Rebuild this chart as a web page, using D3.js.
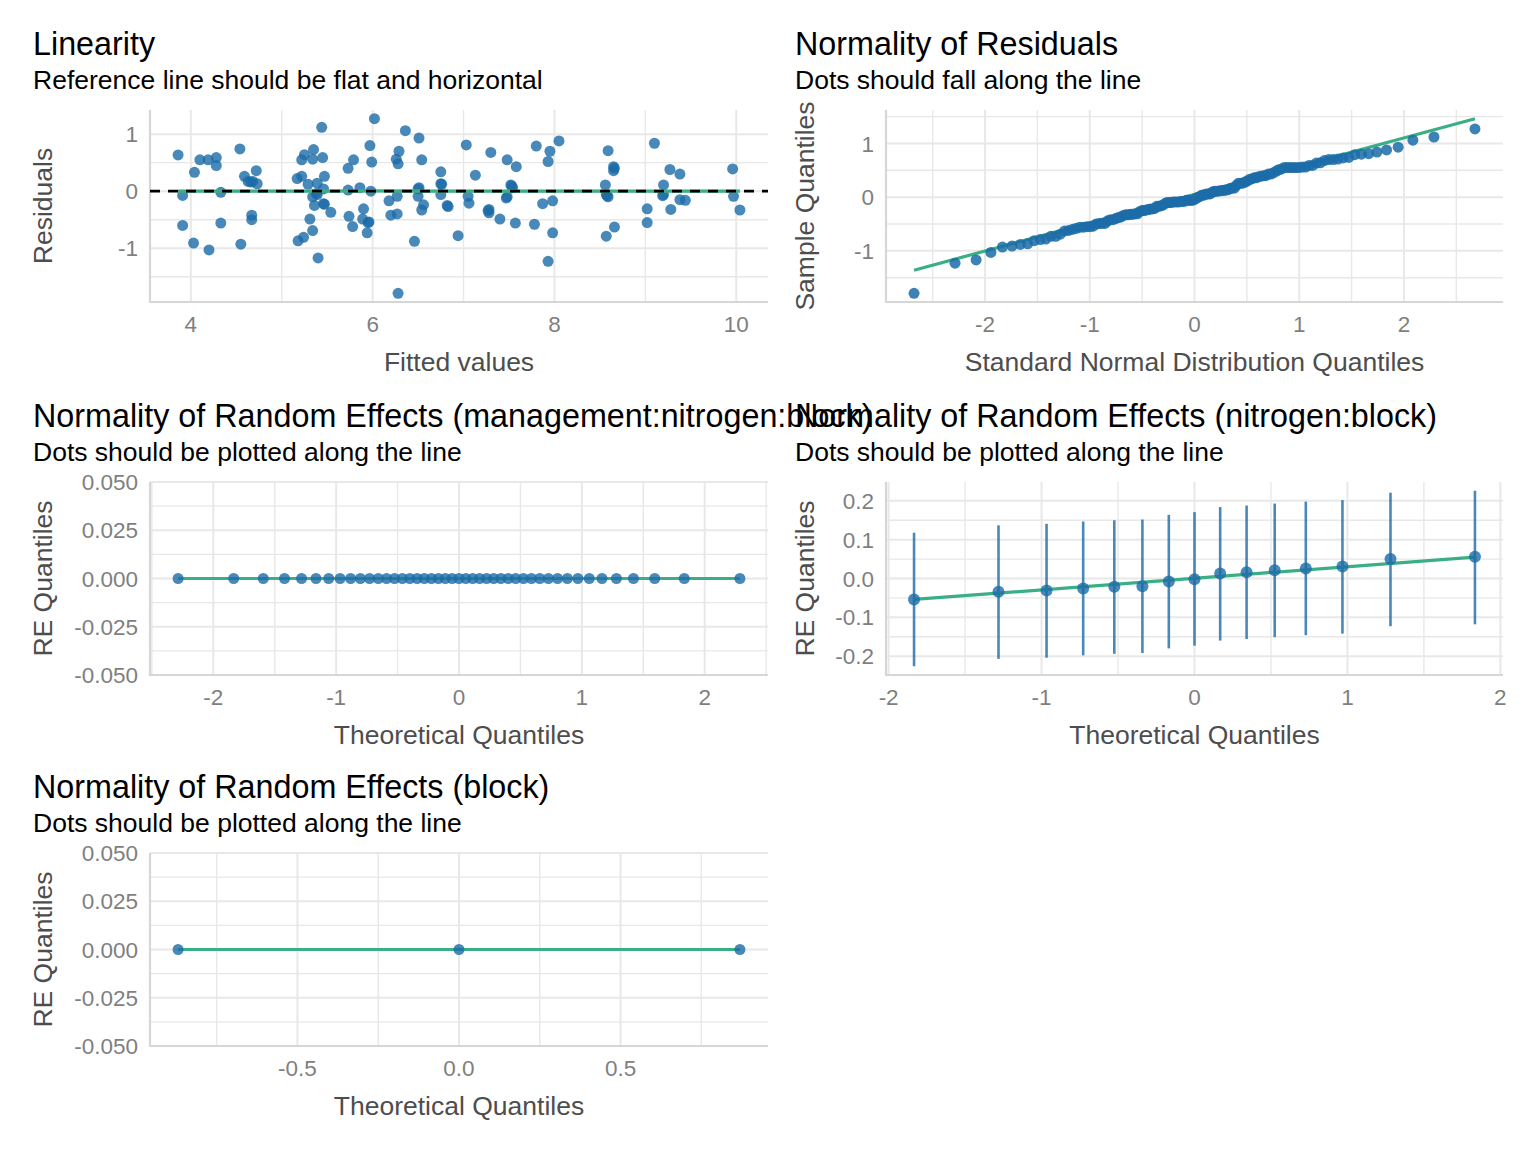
<!DOCTYPE html>
<html>
<head>
<meta charset="utf-8">
<script src="https://cdn.jsdelivr.net/npm/d3@7"></script>
<style>
  body { margin: 0; background: #fff; }
  text { font-family: "Liberation Sans", Arial, sans-serif; }
</style>
</head>
<body>
<svg id="chart" width="1536" height="1152"></svg>
<script>
// fitted values / residuals
var fitted = [3.86, 3.91, 3.91, 4.04, 4.03, 4.10, 4.19, 4.28, 4.28, 4.20, 4.33, 4.33, 4.54, 4.55, 4.59, 4.63,
  4.68, 4.73, 4.72, 4.67, 4.67, 5.17, 5.22, 5.22, 5.25, 5.35, 5.34, 5.45, 5.44, 5.29, 5.39, 5.46, 5.47, 5.34,
  5.39, 5.36, 5.46, 5.54, 5.31, 5.34, 5.24, 5.18, 5.40, 5.73, 5.79, 5.73, 5.86, 5.98, 5.74, 5.78, 5.90, 5.89,
  5.96, 5.94, 5.97, 5.99, 6.02, 6.18, 6.27, 6.20, 6.27, 6.28, 6.36, 6.29, 6.26, 6.28, 6.51, 6.54, 6.46, 6.50,
  6.50, 6.56, 6.54, 6.75, 6.75, 6.75, 6.82, 6.94, 7.03, 7.13, 7.05, 7.06, 7.28, 7.28, 7.30, 7.40, 7.48, 7.58,
  7.52, 7.54, 7.48, 7.57, 7.80, 7.95, 7.93, 8.05, 7.87, 7.98, 7.78, 7.98, 7.93, 8.59, 8.65, 8.65, 8.56, 8.57,
  8.59, 8.66, 8.57, 9.10, 9.27, 9.38, 9.20, 9.19, 9.38, 9.44, 9.02, 9.28, 9.02, 9.96, 9.97, 10.04,
  4.66, 5.47, 5.95, 6.51, 6.76, 6.83, 7.27, 7.53, 7.47, 8.58, 8.66, 9.20, 5.38];
var residuals = [0.635, -0.075, -0.60, 0.33, -0.91, 0.55, 0.55, 0.59, 0.45, -1.03, -0.02, -0.56, 0.74, -0.93,
  0.26, 0.17, 0.17, 0.13, 0.36, -0.42, -0.50, 0.22, 0.26, 0.55, 0.64, 0.73, 0.56, 0.59, 1.12, 0.12, 0.14, 0.04,
  0.26, -0.10, -0.06, -0.25, -0.22, -0.37, -0.49, -0.69, -0.81, -0.87, -1.17, 0.40, 0.55, 0.02, 0.06, 0.0,
  -0.44, -0.62, -0.31, -0.49, -0.54, -0.73, 0.80, 0.51, 1.27, -0.17, -0.09, -0.42, -0.40, -1.79, 1.06, 0.70,
  0.56, 0.48, 0.93, 0.55, -0.88, 0.04, -0.09, -0.24, -0.33, 0.34, 0.13, -0.06, -0.25, -0.78, 0.81, 0.28, -0.09,
  -0.21, -0.32, -0.38, 0.68, -0.49, 0.55, 0.43, 0.11, 0.06, -0.10, -0.56, 0.79, 0.70, 0.52, 0.88, -0.22, -0.17,
  -0.58, -0.73, -1.23, 0.71, 0.43, 0.36, 0.11, -0.06, -0.10, -0.63, -0.79, 0.84, 0.38, 0.30, 0.11, -0.08, -0.15,
  -0.16, -0.31, -0.32, -0.55, 0.39, -0.09, -0.33,
  0.16, -0.23, -0.55, 0.06, 0.12, -0.27, -0.34, 0.09, -0.12, -0.08, 0.40, -0.06, -0.04];

// loess reference line of the Linearity panel
var smoothX = [3.86, 5, 6, 7, 8, 9, 10.04];
var smoothY = [0.0, 0.0, 0.004, 0.0, 0.0, 0.0, 0.0];
var smoothSe = 0.035;

// qq line of residuals (end points)
var qqLineY = [-1.36, 1.46];

// random effects
var reMgmtNitroBlock = d3.range(45).map(function() { return 0; });
var reBlock = [0, 0, 0];
var reNitroBlock = [-0.054, -0.034, -0.031, -0.026, -0.021, -0.020, -0.008, -0.002, 0.013, 0.016, 0.021, 0.026, 0.031, 0.050, 0.056];
var reNitroLo = [-0.226, -0.207, -0.204, -0.198, -0.194, -0.192, -0.180, -0.173, -0.160, -0.156, -0.151, -0.146, -0.142, -0.123, -0.118];
var reNitroHi = [0.118, 0.137, 0.141, 0.147, 0.150, 0.152, 0.164, 0.171, 0.184, 0.188, 0.193, 0.198, 0.202, 0.221, 0.226];
var reNitroLine = [-0.054, 0.055];

// tick labels
var linXTicks = [4, 6, 8, 10];
var linYTicks = [-1, 0, 1];
var qqXTicks = [-2, -1, 0, 1, 2];
var qqYTicks = [-1, 0, 1];
var reXTicks = [-2, -1, 0, 1, 2];
var reYTicks = [-0.05, -0.025, 0, 0.025, 0.05];
var nbYTicks = [-0.2, -0.1, 0, 0.1, 0.2];
var blockXTicks = [-0.5, 0, 0.5];

var green = "#3aaf85", blue = "#1b6ca8";

var svg = d3.select("#chart");
svg.append("rect").attr("width", 1536).attr("height", 1152).attr("fill", "#fff");

// inverse normal cdf (Acklam)
function qnorm(p) {
  var a = [-3.969683028665376e+01, 2.209460984245205e+02, -2.759285104469687e+02, 1.383577518672690e+02, -3.066479806614716e+01, 2.506628277459239e+00];
  var b = [-5.447609879822406e+01, 1.615858368580409e+02, -1.556989798598866e+02, 6.680131188771972e+01, -1.328068155288572e+01];
  var c = [-7.784894002430293e-03, -3.223964580411365e-01, -2.400758277161838e+00, -2.549732539343734e+00, 4.374664141464968e+00, 2.938163982698783e+00];
  var d = [7.784695709041462e-03, 3.224671290700398e-01, 2.445134137142996e+00, 3.754408661907416e+00];
  var q, r;
  if (p < 0.02425) {
    q = Math.sqrt(-2 * Math.log(p));
    return (((((c[0]*q+c[1])*q+c[2])*q+c[3])*q+c[4])*q+c[5]) / ((((d[0]*q+d[1])*q+d[2])*q+d[3])*q+1);
  }
  if (p > 1 - 0.02425) return -qnorm(1 - p);
  q = p - 0.5; r = q * q;
  return (((((a[0]*r+a[1])*r+a[2])*r+a[3])*r+a[4])*r+a[5])*q / (((((b[0]*r+b[1])*r+b[2])*r+b[3])*r+b[4])*r+1);
}
function theoretical(n) {
  var a = n <= 10 ? 3 / 8 : 0.5;
  return d3.range(1, n + 1).map(function(i) { return qnorm((i - a) / (n + 1 - 2 * a)); });
}
function expand(ext) {
  var w = ext[1] - ext[0];
  if (w === 0) return [ext[0] - 0.05, ext[1] + 0.05];
  return [ext[0] - 0.05 * w, ext[1] + 0.05 * w];
}
function minors(ticks, dom) {
  var step = ticks[1] - ticks[0];
  var m = [ticks[0] - step / 2].concat(ticks.map(function(t) { return t + step / 2; }));
  return m.filter(function(v) { return v >= dom[0] && v <= dom[1]; });
}
function fmt(f) {
  return function(v) { return d3.format(f)(v).replace("\u2212", "-"); };
}

function panel(o) {
  var g = svg.append("g");
  var x = d3.scaleLinear().domain(o.xDomain).range([o.x0, o.x1]);
  var y = d3.scaleLinear().domain(o.yDomain).range([o.y1, o.y0]);

  g.append("text").attr("x", o.left).attr("y", o.y0 - 55)
    .attr("font-size", 32.3).attr("fill", "#000").text(o.title);
  g.append("text").attr("x", o.left).attr("y", o.y0 - 21)
    .attr("font-size", 26.5).attr("fill", "#000").text(o.subtitle);

  var grid = g.append("g").attr("stroke", "#e8e8e8");
  grid.selectAll(".vminor").data(minors(o.xTicks, o.xDomain)).enter().append("line")
    .attr("x1", x).attr("x2", x).attr("y1", o.y0).attr("y2", o.y1).attr("stroke-width", 1.4);
  grid.selectAll(".hminor").data(minors(o.yTicks, o.yDomain)).enter().append("line")
    .attr("y1", y).attr("y2", y).attr("x1", o.x0).attr("x2", o.x1).attr("stroke-width", 1.4);
  grid.selectAll(".vmajor").data(o.xTicks).enter().append("line")
    .attr("x1", x).attr("x2", x).attr("y1", o.y0).attr("y2", o.y1).attr("stroke-width", 2);
  grid.selectAll(".hmajor").data(o.yTicks).enter().append("line")
    .attr("y1", y).attr("y2", y).attr("x1", o.x0).attr("x2", o.x1).attr("stroke-width", 2);

  g.append("line").attr("x1", o.x0).attr("x2", o.x0).attr("y1", o.y0).attr("y2", o.y1 + 1)
    .attr("stroke", "#d6d6d6").attr("stroke-width", 2.2);
  g.append("line").attr("x1", o.x0 - 1).attr("x2", o.x1).attr("y1", o.y1).attr("y2", o.y1)
    .attr("stroke", "#d6d6d6").attr("stroke-width", 2.2);

  g.selectAll(".xt").data(o.xTicks).enter().append("text")
    .attr("x", x).attr("y", o.y1 + 30).attr("text-anchor", "middle")
    .attr("font-size", 22.5).attr("fill", "#7f7f7f").text(o.xFmt);
  g.selectAll(".yt").data(o.yTicks).enter().append("text")
    .attr("x", o.x0 - 12).attr("y", y).attr("dy", "0.36em").attr("text-anchor", "end")
    .attr("font-size", 22.5).attr("fill", "#7f7f7f").text(o.yFmt);

  g.append("text").attr("x", (o.x0 + o.x1) / 2).attr("y", o.y1 + 69).attr("text-anchor", "middle")
    .attr("font-size", 26.5).attr("fill", "#4d4d4d").text(o.xLabel);
  g.append("text").attr("transform", "translate(" + (o.left + 19) + "," + ((o.y0 + o.y1) / 2) + ") rotate(-90)")
    .attr("text-anchor", "middle").attr("font-size", 26.5).attr("fill", "#4d4d4d").text(o.yLabel);

  return { g: g, x: x, y: y };
}

// ---- Linearity ----
var p1 = panel({
  left: 33, x0: 150, x1: 768, y0: 110, y1: 302,
  title: "Linearity", subtitle: "Reference line should be flat and horizontal",
  xLabel: "Fitted values", yLabel: "Residuals",
  xDomain: expand(d3.extent(fitted)), yDomain: expand(d3.extent(residuals)),
  xTicks: linXTicks, yTicks: linYTicks, xFmt: fmt("d"), yFmt: fmt("d")
});
p1.g.selectAll(".pt").data(fitted).enter().append("circle")
  .attr("cx", function(d) { return p1.x(d); })
  .attr("cy", function(d, i) { return p1.y(residuals[i]); })
  .attr("r", 5.5).attr("fill", blue).attr("fill-opacity", 0.8);
p1.g.append("path").datum(smoothX)
  .attr("d", d3.area().x(function(d) { return p1.x(d); })
    .y0(function(d, i) { return p1.y(smoothY[i] - smoothSe); })
    .y1(function(d, i) { return p1.y(smoothY[i] + smoothSe); }).curve(d3.curveMonotoneX))
  .attr("fill", "#999").attr("fill-opacity", 0.2);
p1.g.append("path").datum(smoothX)
  .attr("d", d3.line().x(function(d) { return p1.x(d); }).y(function(d, i) { return p1.y(smoothY[i]); }).curve(d3.curveMonotoneX))
  .attr("fill", "none").attr("stroke", green).attr("stroke-width", 3.2);
p1.g.append("line").attr("x1", 150).attr("x2", 768).attr("y1", p1.y(0)).attr("y2", p1.y(0))
  .attr("stroke", "#000").attr("stroke-width", 2.6).attr("stroke-dasharray", "10,8");

// ---- Normality of residuals ----
var sortedRes = residuals.slice().sort(d3.ascending);
var qqX = theoretical(sortedRes.length);
var qqLineX = d3.extent(qqX);
var p2 = panel({
  left: 795, x0: 886, x1: 1503, y0: 110, y1: 302,
  title: "Normality of Residuals", subtitle: "Dots should fall along the line",
  xLabel: "Standard Normal Distribution Quantiles", yLabel: "Sample Quantiles",
  xDomain: expand(qqLineX), yDomain: expand(d3.extent(sortedRes.concat(qqLineY))),
  xTicks: qqXTicks, yTicks: qqYTicks, xFmt: fmt("d"), yFmt: fmt("d")
});
p2.g.append("line").attr("x1", p2.x(qqLineX[0])).attr("x2", p2.x(qqLineX[1]))
  .attr("y1", p2.y(qqLineY[0])).attr("y2", p2.y(qqLineY[1]))
  .attr("stroke", green).attr("stroke-width", 3.2);
p2.g.selectAll(".pt").data(sortedRes).enter().append("circle")
  .attr("cx", function(d, i) { return p2.x(qqX[i]); })
  .attr("cy", function(d) { return p2.y(d); })
  .attr("r", 5.5).attr("fill", blue).attr("fill-opacity", 0.85);

// ---- RE management:nitrogen:block ----
var mnbX = theoretical(reMgmtNitroBlock.length);
var p3 = panel({
  left: 33, x0: 150, x1: 768, y0: 482, y1: 675,
  title: "Normality of Random Effects (management:nitrogen:block)", subtitle: "Dots should be plotted along the line",
  xLabel: "Theoretical Quantiles", yLabel: "RE Quantiles",
  xDomain: expand(d3.extent(mnbX)), yDomain: expand(d3.extent(reMgmtNitroBlock)),
  xTicks: reXTicks, yTicks: reYTicks, xFmt: fmt("d"), yFmt: fmt(".3f")
});
p3.g.append("line").attr("x1", p3.x(mnbX[0])).attr("x2", p3.x(mnbX[mnbX.length - 1]))
  .attr("y1", p3.y(0)).attr("y2", p3.y(0)).attr("stroke", green).attr("stroke-width", 3.2);
p3.g.selectAll(".pt").data(reMgmtNitroBlock).enter().append("circle")
  .attr("cx", function(d, i) { return p3.x(mnbX[i]); })
  .attr("cy", function(d) { return p3.y(d); })
  .attr("r", 5.5).attr("fill", blue).attr("fill-opacity", 0.8);

// ---- RE nitrogen:block ----
var nbX = theoretical(reNitroBlock.length);
var p4 = panel({
  left: 795, x0: 886, x1: 1503, y0: 482, y1: 675,
  title: "Normality of Random Effects (nitrogen:block)", subtitle: "Dots should be plotted along the line",
  xLabel: "Theoretical Quantiles", yLabel: "RE Quantiles",
  xDomain: expand(d3.extent(nbX)), yDomain: expand(d3.extent(reNitroLo.concat(reNitroHi))),
  xTicks: reXTicks, yTicks: nbYTicks, xFmt: fmt("d"), yFmt: fmt(".1f")
});
p4.g.selectAll(".eb").data(reNitroBlock).enter().append("line")
  .attr("x1", function(d, i) { return p4.x(nbX[i]); })
  .attr("x2", function(d, i) { return p4.x(nbX[i]); })
  .attr("y1", function(d, i) { return p4.y(reNitroLo[i]); })
  .attr("y2", function(d, i) { return p4.y(reNitroHi[i]); })
  .attr("stroke", blue).attr("stroke-opacity", 0.8).attr("stroke-width", 2.6);
p4.g.append("line").attr("x1", p4.x(nbX[0])).attr("x2", p4.x(nbX[nbX.length - 1]))
  .attr("y1", p4.y(reNitroLine[0])).attr("y2", p4.y(reNitroLine[1]))
  .attr("stroke", green).attr("stroke-width", 3.2);
p4.g.selectAll(".pt").data(reNitroBlock).enter().append("circle")
  .attr("cx", function(d, i) { return p4.x(nbX[i]); })
  .attr("cy", function(d) { return p4.y(d); })
  .attr("r", 6).attr("fill", blue).attr("fill-opacity", 0.8);

// ---- RE block ----
var bX = theoretical(reBlock.length);
var p5 = panel({
  left: 33, x0: 150, x1: 768, y0: 853, y1: 1046,
  title: "Normality of Random Effects (block)", subtitle: "Dots should be plotted along the line",
  xLabel: "Theoretical Quantiles", yLabel: "RE Quantiles",
  xDomain: expand(d3.extent(bX)), yDomain: expand(d3.extent(reBlock)),
  xTicks: blockXTicks, yTicks: reYTicks, xFmt: fmt(".1f"), yFmt: fmt(".3f")
});
p5.g.append("line").attr("x1", p5.x(bX[0])).attr("x2", p5.x(bX[bX.length - 1]))
  .attr("y1", p5.y(0)).attr("y2", p5.y(0)).attr("stroke", green).attr("stroke-width", 3.2);
p5.g.selectAll(".pt").data(reBlock).enter().append("circle")
  .attr("cx", function(d, i) { return p5.x(bX[i]); })
  .attr("cy", function(d) { return p5.y(d); })
  .attr("r", 5.5).attr("fill", blue).attr("fill-opacity", 0.8);
</script>
</body>
</html>
